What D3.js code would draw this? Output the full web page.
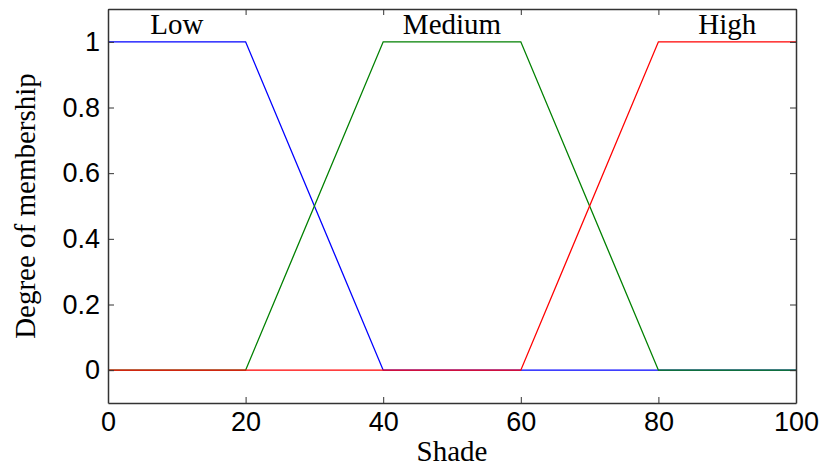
<!DOCTYPE html>
<html>
<head>
<meta charset="utf-8">
<script src="https://unpkg.com/d3@7/dist/d3.min.js"></script>
<style>
  body { margin: 0; background: #fff; }
  .axis text { font-family: "Liberation Sans", Arial, sans-serif; font-size: 27px; fill: #000; }
  .axis path, .axis line { stroke: #333; }
</style>
</head>
<body>
<div class="chart"></div>
<script>
// membership function breakpoints (shade, degree)
const shade = [0, 20, 40, 60, 80, 100];
const lowVals = [1, 1, 0, 0, 0, 0];
const mediumVals = [0, 0, 1, 1, 0, 0];
const highVals = [0, 0, 0, 0, 1, 1];
const setNames = ["Low", "Medium", "High"];
const setCenters = [10, 50, 90];
const xTicks = [0, 20, 40, 60, 80, 100];
const yTicks = [0, 0.2, 0.4, 0.6, 0.8, 1];

const margin = { top: 9, right: 26, bottom: 69, left: 108 };
const width = 822 - margin.left - margin.right,
  height = 472 - margin.top - margin.bottom;

const svg = d3
  .select(".chart")
  .append("svg")
  .attr("width", 822)
  .attr("height", 472)
  .append("g")
  .attr("transform", "translate(" + margin.left + "," + margin.top + ")");

const xScale = d3.scaleLinear().domain([0, 100]).range([0, width]);
const yScale = d3.scaleLinear().domain([-0.1, 1.1]).range([height, 0]);

const line = d3
  .line()
  .x((d) => xScale(d[0]))
  .y((d) => yScale(d[1]));

const series = [
  { vals: lowVals, color: "#0000ff" },
  { vals: mediumVals, color: "#008000" },
  { vals: highVals, color: "#ff0000" },
];

series.forEach((s) => {
  svg
    .append("path")
    .datum(shade.map((x, i) => [x, s.vals[i]]))
    .attr("fill", "none")
    .attr("stroke", s.color)
    .attr("stroke-width", 1.3)
    .attr("d", line);
});

// axes with inward ticks on all sides
svg.append("g").attr("class", "axis")
  .attr("transform", `translate(0,${height})`)
  .call(d3.axisBottom(xScale).tickValues(xTicks).tickSize(-6).tickPadding(9).tickSizeOuter(0))
  .selectAll("text").attr("dy", "0.71em");

svg.append("g").attr("class", "axis")
  .call(d3.axisTop(xScale).tickValues(xTicks).tickSize(-6).tickFormat("").tickSizeOuter(0));

svg.append("g").attr("class", "axis")
  .call(d3.axisLeft(yScale).tickValues(yTicks).tickSize(-6).tickPadding(8).tickSizeOuter(0).tickFormat(d3.format("~g")));

svg.append("g").attr("class", "axis")
  .attr("transform", `translate(${width},0)`)
  .call(d3.axisRight(yScale).tickValues(yTicks).tickSize(-6).tickFormat("").tickSizeOuter(0));

svg.selectAll(".axis path").attr("stroke-width", 1.5);

// set names
svg.selectAll(".setname")
  .data(setNames)
  .enter()
  .append("text")
  .attr("class", "setname")
  .attr("x", (d, i) => xScale(setCenters[i]))
  .attr("y", 25)
  .attr("text-anchor", "middle")
  .style("font-family", "Liberation Serif, Times New Roman, serif")
  .style("font-size", "29px")
  .text((d) => d);

svg.append("text")
  .attr("x", width / 2)
  .attr("y", height + 58)
  .attr("text-anchor", "middle")
  .style("font-family", "Liberation Serif, Times New Roman, serif")
  .style("font-size", "29px")
  .text("Shade");

svg.append("text")
  .attr("transform", `translate(${-73},${yScale(0.5)}) rotate(-90)`)
  .attr("text-anchor", "middle")
  .style("font-family", "Liberation Serif, Times New Roman, serif")
  .style("font-size", "29px")
  .text("Degree of membership");
</script>
</body>
</html>
